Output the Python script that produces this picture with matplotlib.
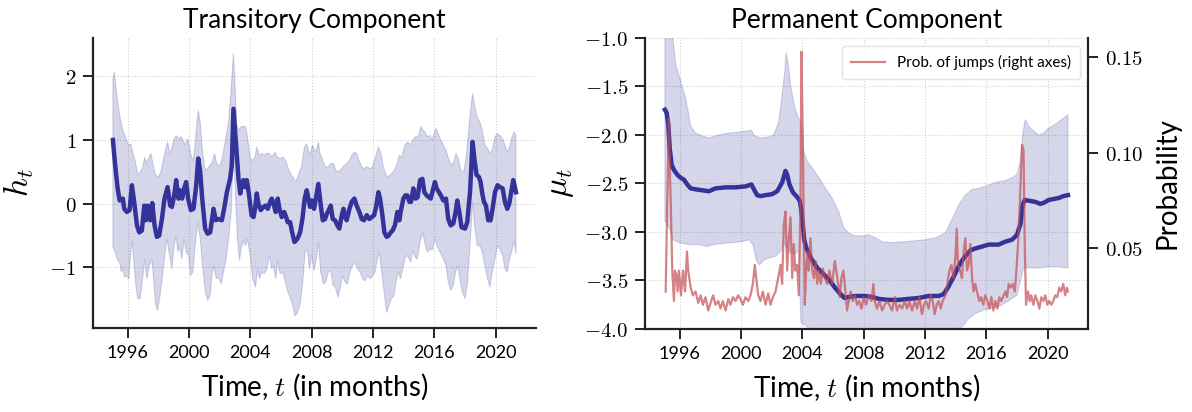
import numpy as np
import matplotlib
matplotlib.use("Agg")
import matplotlib.pyplot as plt
from matplotlib.ticker import FormatStrFormatter

plt.rcParams['font.family'] = ['Lato', 'DejaVu Sans']
plt.rcParams['mathtext.fontset'] = 'cm'

BASE_YEAR = 1995

# ---------------- Transitory component (left) ----------------
h_mean_t = [0.02,0.17,0.33,0.46,0.67,0.76,0.93,1.11,1.26,1.41,
            1.59,1.74,1.91,2.07,2.17,2.30,2.46,2.59,2.74,2.89,
            3.04,3.22,3.39,3.59,3.76,3.87,4.02,4.15,4.30,4.41,
            4.54,4.67,4.80,4.93,5.11,5.28,5.46,5.59,5.72,5.85,
            6.04,6.20,6.37,6.48,6.59,6.74,6.91,7.13,7.28,7.46,
            7.67,7.78,7.89,8.00,8.11,8.22,8.33,8.43,8.54,8.65,
            8.76,8.91,9.07,9.20,9.30,9.41,9.52,9.67,9.85,9.98,
            10.13,10.28,10.39,10.50,10.65,10.78,10.89,11.04,11.20,11.33,
            11.43,11.59,11.72,11.87,12.07,12.24,12.39,12.54,12.67,12.78,
            12.89,13.00,13.15,13.28,13.43,13.59,13.72,13.87,13.98,14.11,
            14.24,14.37,14.52,14.67,14.80,14.96,15.07,15.17,15.28,15.46,
            15.61,15.78,15.93,16.11,16.26,16.41,16.59,16.76,16.91,17.07,
            17.20,17.35,17.46,17.61,17.74,17.89,18.02,18.15,18.28,18.43,
            18.59,18.72,18.80,18.98,19.11,19.24,19.37,19.48,19.63,19.78,
            19.91,20.07,20.22,20.35,20.50,20.65,20.76,20.87,21.04,21.15,
            21.30,21.43,21.59,21.76,21.91,22.07,22.24,22.39,22.50,22.63,
            22.78,23.00,23.15,23.33,23.50,23.61,23.76,23.91,24.02,24.13,
            24.24,24.37,24.52,24.67,24.80,24.96,25.13,25.28,25.46,25.61,
            25.76,25.89,26.04,26.15,26.26,26.33]
h_mean = [1.00,0.60,0.24,0.05,0.08,-0.08,-0.13,-0.10,0.29,0.03,
          -0.34,-0.45,-0.42,-0.03,-0.26,-0.03,-0.26,0.01,-0.34,-0.52,
          -0.50,-0.24,0.08,0.26,-0.03,-0.05,0.13,0.37,0.08,0.21,
          0.08,0.24,0.34,0.08,-0.10,-0.08,0.29,0.71,0.50,0.08,
          -0.39,-0.47,-0.45,-0.26,-0.08,-0.26,-0.24,-0.26,-0.08,0.18,
          0.39,0.60,1.49,1.13,0.76,0.39,0.16,0.29,0.37,0.26,
          0.37,0.13,-0.18,-0.21,-0.08,0.16,0.00,-0.10,-0.05,-0.03,
          -0.08,0.03,0.08,0.00,-0.13,0.08,-0.08,-0.21,-0.13,-0.21,
          -0.29,-0.29,-0.45,-0.60,-0.55,-0.45,-0.24,0.08,0.21,0.08,
          -0.05,0.05,-0.08,0.10,0.31,-0.03,-0.26,-0.24,-0.16,-0.10,
          -0.03,-0.24,-0.26,-0.34,-0.39,-0.18,-0.08,-0.21,-0.26,-0.08,
          0.03,0.08,-0.03,-0.13,-0.24,-0.26,-0.18,-0.24,-0.21,-0.18,
          -0.05,0.18,0.08,-0.18,-0.45,-0.52,-0.50,-0.45,-0.42,-0.34,
          -0.13,-0.26,-0.13,0.08,0.13,0.13,0.03,0.03,0.24,0.08,
          0.10,0.37,0.39,0.18,0.13,0.10,0.08,0.18,0.34,0.24,
          0.18,0.13,0.05,0.08,-0.24,-0.34,-0.31,-0.13,0.05,-0.13,
          -0.37,-0.39,-0.29,0.18,0.97,0.71,0.45,0.42,0.34,0.16,
          0.03,-0.03,-0.26,-0.26,-0.08,0.18,0.29,0.26,0.24,0.03,
          -0.08,0.00,0.21,0.37,0.26,0.18]

h_upper_t = [0.02,0.11,0.28,0.46,0.67,0.87,1.04,1.20,1.33,1.48,
             1.65,1.80,1.98,2.09,2.20,2.35,2.50,2.63,2.80,3.00,
             3.15,3.33,3.48,3.59,3.72,3.87,4.02,4.15,4.30,4.46,
             4.59,4.74,4.89,5.00,5.13,5.28,5.41,5.59,5.72,5.85,
             6.00,6.15,6.33,6.48,6.65,6.80,6.98,7.15,7.35,7.57,
             7.74,7.89,8.00,8.11,8.24,8.39,8.54,8.67,8.80,8.98,
             9.15,9.30,9.41,9.57,9.74,9.89,10.07,10.24,10.39,10.61,
             10.76,10.93,11.15,11.33,11.54,11.76,11.96,12.13,12.35,12.52,
             12.67,12.89,13.04,13.28,13.43,13.54,13.72,13.87,14.09,14.24,
             14.41,14.59,14.74,14.96,15.11,15.28,15.46,15.61,15.78,15.93,
             16.09,16.26,16.41,16.59,16.80,16.98,17.13,17.35,17.50,17.67,
             17.89,18.11,18.33,18.54,18.72,18.87,19.09,19.26,19.46,19.59,
             19.76,19.96,20.11,20.28,20.39,20.54,20.72,20.85,20.98,21.11,
             21.26,21.41,21.59,21.76,21.96,22.13,22.28,22.41,22.57,22.74,
             22.93,23.11,23.33,23.50,23.65,23.80,23.98,24.13,24.30,24.48,
             24.63,24.78,24.96,25.11,25.28,25.46,25.61,25.76,25.89,26.04,
             26.20,26.33]
h_upper = [1.95,2.07,1.70,1.39,1.15,1.02,0.92,0.94,0.79,0.66,
           0.45,0.50,0.58,0.73,0.63,0.71,0.79,0.63,0.45,0.42,
           0.50,0.71,0.87,0.97,0.79,0.87,1.02,1.07,1.02,1.05,
           1.00,0.92,1.02,0.92,0.76,0.66,1.02,1.47,1.28,0.87,
           0.58,0.52,0.60,0.63,0.79,0.63,0.58,0.71,0.97,1.28,
           1.81,2.36,1.81,1.23,1.15,1.21,1.21,1.21,1.07,0.71,
           0.68,0.73,0.89,0.76,0.79,0.76,0.79,0.79,0.73,0.81,
           0.73,0.71,0.73,0.66,0.50,0.42,0.34,0.45,0.60,0.89,
           0.94,0.76,0.92,0.81,0.97,0.79,0.68,0.58,0.58,0.63,
           0.63,0.52,0.50,0.55,0.60,0.63,0.68,0.76,0.81,0.79,
           0.68,0.58,0.55,0.58,0.55,0.58,0.71,0.89,0.81,0.58,
           0.42,0.45,0.50,0.60,0.76,0.73,0.92,0.97,0.92,1.00,
           1.05,1.05,1.21,1.15,1.13,1.05,1.07,1.00,1.10,1.18,
           1.10,1.00,0.92,0.84,0.68,0.60,0.66,0.79,0.71,0.52,
           0.50,0.81,1.39,1.73,1.52,1.36,1.28,1.15,0.92,0.87,
           0.79,0.84,1.05,1.10,1.07,1.02,0.92,0.81,0.87,1.02,
           1.13,1.07]

h_lower_t = [0.02,0.17,0.33,0.46,0.57,0.67,0.78,0.93,1.07,1.15,
             1.28,1.41,1.54,1.65,1.80,1.96,2.09,2.24,2.39,2.57,
             2.67,2.80,2.93,3.07,3.22,3.39,3.54,3.72,3.87,4.02,
             4.15,4.26,4.37,4.52,4.67,4.80,4.96,5.09,5.24,5.41,
             5.57,5.72,5.87,6.04,6.20,6.37,6.48,6.63,6.76,6.91,
             7.09,7.24,7.41,7.59,7.74,7.89,8.02,8.15,8.28,8.39,
             8.54,8.67,8.80,8.98,9.15,9.33,9.46,9.59,9.74,9.89,
             10.07,10.24,10.37,10.50,10.65,10.78,10.93,11.11,11.26,11.41,
             11.59,11.76,11.89,12.07,12.24,12.41,12.57,12.70,12.85,13.00,
             13.15,13.30,13.43,13.59,13.76,13.91,14.09,14.24,14.39,14.54,
             14.72,14.89,15.02,15.17,15.33,15.50,15.67,15.83,15.98,16.15,
             16.33,16.48,16.65,16.80,16.98,17.13,17.28,17.41,17.57,17.72,
             17.89,18.04,18.20,18.37,18.50,18.65,18.80,18.98,19.15,19.30,
             19.46,19.59,19.74,19.89,20.07,20.24,20.39,20.54,20.72,20.87,
             21.04,21.20,21.37,21.54,21.76,21.91,22.09,22.24,22.39,22.52,
             22.67,22.83,23.00,23.15,23.33,23.50,23.65,23.80,23.98,24.13,
             24.30,24.48,24.63,24.78,24.96,25.11,25.28,25.46,25.61,25.76,
             25.89,26.04,26.20,26.33]
h_lower = [-0.68,-0.76,-0.89,-0.92,-1.07,-1.02,-1.15,-1.13,-1.18,-0.87,
           -0.58,-0.97,-1.34,-1.49,-1.49,-1.18,-0.87,-1.18,-0.97,-0.87,
           -1.18,-1.55,-1.68,-1.49,-1.21,-0.84,-0.55,-0.81,-1.02,-0.66,
           -0.50,-0.76,-0.66,-0.87,-0.55,-0.76,-0.81,-1.13,-1.07,-0.60,
           -0.29,-0.55,-0.97,-1.36,-1.52,-1.44,-1.13,-0.97,-1.18,-1.15,
           -1.26,-1.07,-0.87,-0.50,-0.13,0.87,0.13,-0.55,-0.89,-0.71,
           -0.58,-0.66,-0.55,-0.81,-1.18,-1.31,-1.02,-1.18,-1.07,-1.10,
           -1.02,-0.81,-1.02,-0.97,-1.18,-0.89,-1.10,-1.07,-1.21,-1.36,
           -1.47,-1.60,-1.76,-1.71,-1.58,-1.23,-0.76,-0.71,-1.02,-0.81,
           -1.05,-0.87,-0.60,-1.07,-1.26,-1.23,-1.07,-1.05,-1.28,-1.31,
           -1.47,-1.28,-1.13,-1.23,-1.26,-1.07,-0.97,-0.92,-1.02,-1.07,
           -1.18,-1.21,-1.13,-1.18,-1.13,-1.07,-0.87,-0.76,-1.07,-1.39,
           -1.71,-1.60,-1.49,-1.44,-1.23,-1.07,-1.18,-0.97,-0.81,-0.84,
           -0.92,-0.73,-0.84,-0.87,-0.60,-0.45,-0.63,-0.76,-0.71,-0.73,
           -0.55,-0.68,-0.76,-0.84,-0.97,-1.23,-1.36,-1.28,-1.07,-0.97,
           -1.18,-1.39,-1.49,-1.28,-0.66,0.03,-0.39,-0.66,-0.66,-0.76,
           -0.97,-1.18,-1.31,-1.07,-0.87,-0.66,-0.71,-0.81,-1.02,-1.07,
           -0.89,-0.76,-0.58,-0.79]

# ---------------- Permanent component (right) ----------------
mu_mean_t = [0.02,0.13,0.24,0.33,0.46,0.61,0.83,1.04,1.26,1.48,
             1.70,2.02,2.46,2.89,3.33,3.98,4.63,5.28,5.67,5.83,
             6.04,6.26,6.59,7.02,7.35,7.67,7.89,8.00,8.15,8.37,
             8.65,8.83,8.93,9.02,9.11,9.24,9.41,9.63,9.96,10.28,
             10.72,11.15,11.48,11.74,12.02,12.46,13.11,13.54,13.98,14.63,
             15.28,15.93,16.59,17.24,17.89,18.22,18.54,18.87,19.20,19.52,
             19.96,20.28,20.72,21.15,21.80,22.24,22.67,23.00,23.22,23.37,
             23.50,23.87,24.20,24.52,24.74,25.07,25.39,25.72,26.04,26.33]
mu_mean = [-1.74,-1.77,-1.89,-2.13,-2.31,-2.36,-2.41,-2.44,-2.46,-2.51,
           -2.55,-2.56,-2.57,-2.58,-2.55,-2.54,-2.54,-2.53,-2.51,-2.56,
           -2.62,-2.63,-2.62,-2.61,-2.58,-2.49,-2.37,-2.41,-2.51,-2.59,
           -2.64,-2.68,-2.79,-2.92,-3.08,-3.16,-3.22,-3.29,-3.37,-3.42,
           -3.49,-3.58,-3.64,-3.68,-3.67,-3.66,-3.66,-3.67,-3.69,-3.70,
           -3.70,-3.69,-3.68,-3.66,-3.66,-3.64,-3.56,-3.46,-3.35,-3.27,
           -3.19,-3.17,-3.15,-3.13,-3.13,-3.10,-3.08,-3.03,-2.92,-2.72,
           -2.67,-2.68,-2.69,-2.71,-2.70,-2.67,-2.66,-2.65,-2.63,-2.62]

mu_upper_t = [0.02,0.39,0.54,0.72,0.93,1.15,1.37,1.54,1.70,2.02,
              2.46,2.89,3.11,3.54,4.20,4.85,5.28,5.67,5.83,6.04,
              6.37,6.80,7.13,7.46,7.67,7.85,7.93,8.07,8.22,8.50,
              8.72,8.87,9.09,9.30,9.63,10.07,10.50,10.93,11.37,11.70,
              12.02,12.46,12.89,13.33,13.76,14.20,14.85,15.72,16.37,17.02,
              17.67,18.33,18.76,19.20,19.63,20.07,20.50,20.93,21.59,22.24,
              22.67,23.00,23.22,23.37,23.54,23.76,24.09,24.41,24.74,25.07,
              25.50,25.93,26.33]
mu_upper = [-0.60,-0.85,-1.00,-1.27,-1.38,-1.50,-1.62,-1.76,-1.91,-1.98,
            -2.01,-2.03,-2.02,-2.00,-1.98,-1.97,-1.96,-1.95,-2.00,-2.02,
            -2.03,-2.02,-2.00,-1.86,-1.58,-1.34,-1.15,-1.27,-1.48,-1.72,
            -1.82,-1.86,-2.17,-2.27,-2.34,-2.44,-2.55,-2.65,-2.79,-2.96,
            -3.01,-3.04,-3.04,-3.03,-3.06,-3.10,-3.11,-3.10,-3.09,-3.08,
            -3.06,-3.01,-2.87,-2.72,-2.62,-2.56,-2.55,-2.53,-2.49,-2.47,
            -2.44,-2.41,-2.27,-2.00,-1.84,-1.91,-1.96,-2.00,-1.98,-1.93,
            -1.89,-1.84,-1.79]

mu_lower_t = [0.02,0.17,0.39,0.54,0.93,1.59,2.24,2.78,3.11,3.76,
              4.41,5.07,5.50,5.76,6.00,6.20,6.48,6.80,7.24,7.57,
              7.78,7.93,8.11,8.43,8.76,8.89,8.98,9.20,9.63,10.07,
              11.80,13.98,16.15,18.33,19.20,19.52,19.85,20.28,20.93,21.80,
              22.46,23.00,23.22,23.43,23.76,24.41,25.07,25.72,26.33]
mu_lower = [-2.89,-2.91,-2.99,-3.08,-3.11,-3.13,-3.13,-3.15,-3.13,-3.12,
            -3.11,-3.10,-3.08,-3.13,-3.30,-3.34,-3.29,-3.27,-3.25,-3.20,
            -3.11,-3.15,-3.20,-3.23,-3.20,-3.92,-3.95,-3.96,-4.03,-4.10,
            -4.20,-4.25,-4.25,-4.15,-4.00,-3.96,-3.89,-3.84,-3.80,-3.77,
            -3.71,-3.65,-3.51,-3.37,-3.37,-3.37,-3.36,-3.36,-3.37]

prob_t = [0.07,0.17,0.28,0.35,0.41,0.50,0.61,0.67,0.76,0.85,
          0.93,1.07,1.20,1.33,1.46,1.54,1.70,1.85,2.02,2.20,
          2.35,2.50,2.67,2.85,3.00,3.17,3.33,3.50,3.65,3.80,
          3.98,4.15,4.30,4.46,4.63,4.80,4.96,5.11,5.28,5.46,
          5.61,5.76,5.89,5.98,6.11,6.26,6.41,6.59,6.76,6.91,
          7.07,7.24,7.41,7.57,7.67,7.78,7.89,8.00,8.11,8.22,
          8.33,8.43,8.54,8.65,8.76,8.87,8.93,9.02,9.09,9.15,
          9.24,9.33,9.41,9.52,9.63,9.74,9.85,9.96,10.07,10.20,
          10.33,10.46,10.61,10.76,10.93,11.11,11.20,11.33,11.43,11.54,
          11.67,11.80,11.91,12.02,12.15,12.28,12.41,12.57,12.70,12.85,
          13.00,13.15,13.33,13.50,13.63,13.72,13.87,14.02,14.20,14.37,
          14.52,14.67,14.85,15.02,15.17,15.33,15.50,15.67,15.83,15.98,
          16.15,16.33,16.48,16.63,16.80,16.93,17.07,17.24,17.37,17.50,
          17.63,17.76,17.89,18.02,18.15,18.33,18.46,18.59,18.72,18.85,
          18.98,19.07,19.15,19.28,19.41,19.52,19.63,19.74,19.85,19.96,
          20.07,20.17,20.28,20.39,20.54,20.67,20.80,20.93,21.07,21.20,
          21.33,21.46,21.59,21.72,21.85,21.98,22.13,22.24,22.35,22.46,
          22.59,22.72,22.85,22.93,23.07,23.20,23.33,23.43,23.50,23.59,
          23.72,23.83,23.93,24.07,24.20,24.33,24.46,24.59,24.72,24.85,
          24.98,25.11,25.24,25.37,25.50,25.63,25.76,25.89,26.02,26.15,
          26.26,26.33]
prob = [0.027,0.073,0.118,0.090,0.071,0.038,0.022,0.038,0.036,0.027,
        0.038,0.025,0.038,0.027,0.048,0.038,0.029,0.025,0.027,0.021,
        0.025,0.020,0.024,0.017,0.021,0.025,0.020,0.022,0.018,0.022,
        0.017,0.023,0.020,0.024,0.022,0.025,0.023,0.020,0.024,0.022,
        0.025,0.031,0.041,0.034,0.025,0.022,0.027,0.020,0.026,0.020,
        0.024,0.027,0.034,0.041,0.031,0.062,0.069,0.038,0.055,0.066,
        0.034,0.052,0.038,0.041,0.025,0.073,0.153,0.108,0.062,0.020,
        0.038,0.048,0.038,0.055,0.039,0.034,0.043,0.031,0.038,0.031,
        0.039,0.034,0.031,0.038,0.031,0.043,0.038,0.031,0.024,0.034,
        0.038,0.027,0.017,0.022,0.027,0.022,0.025,0.020,0.022,0.018,
        0.024,0.020,0.025,0.022,0.031,0.022,0.018,0.022,0.017,0.020,
        0.022,0.020,0.017,0.024,0.017,0.020,0.018,0.022,0.018,0.022,
        0.017,0.022,0.018,0.024,0.015,0.020,0.022,0.018,0.025,0.022,
        0.015,0.020,0.022,0.018,0.022,0.025,0.031,0.038,0.041,0.034,
        0.045,0.060,0.041,0.038,0.034,0.048,0.055,0.038,0.041,0.052,
        0.034,0.027,0.031,0.027,0.022,0.024,0.020,0.025,0.022,0.018,
        0.024,0.017,0.022,0.018,0.024,0.022,0.025,0.027,0.024,0.031,
        0.029,0.031,0.027,0.034,0.052,0.076,0.104,0.101,0.055,0.020,
        0.027,0.022,0.025,0.020,0.025,0.022,0.018,0.024,0.022,0.025,
        0.020,0.022,0.020,0.022,0.025,0.024,0.029,0.027,0.031,0.025,
        0.029,0.027]

year_ticks = [1996, 2000, 2004, 2008, 2012, 2016, 2020]
year_labels = ['1996', '2000', '2004', '2008', '2012', '2016', '2020']

BLUE = '#333399'
RED = '#c44e52'


def yrs(t):
    return BASE_YEAR + np.asarray(t)


def band(ax, tu, u, tl, l):
    xs = np.concatenate([yrs(tu), yrs(tl)[::-1]])
    ys = np.concatenate([np.asarray(u), np.asarray(l)[::-1]])
    ax.fill(xs, ys, facecolor=BLUE, alpha=0.2, edgecolor=BLUE, lw=0.8, zorder=2)


def style(ax):
    ax.set_xlim(1993.72, 2022.64)
    ax.set_xticks(year_ticks)
    ax.set_xticklabels(year_labels, fontsize=13)
    ax.grid(True, ls=':', color='#d0d0d0', lw=0.8, zorder=0)
    ax.set_axisbelow(True)
    ax.spines['top'].set_visible(False)
    ax.spines['right'].set_visible(False)
    for s in ['left', 'bottom']:
        ax.spines[s].set_linewidth(1.6)
        ax.spines[s].set_color('#222222')
    ax.tick_params(axis='both', direction='out', length=7, width=1.4,
                   color='#222222', pad=5)
    ax.tick_params(axis='y', labelsize=15)
    ax.set_xlabel('Time, $t$ (in months)', fontsize=20, labelpad=8)


fig = plt.figure(figsize=(11.92, 4.12), dpi=100)
ax1 = fig.add_axes([0.0780, 0.2039, 0.3717, 0.7039])
ax2 = fig.add_axes([0.5411, 0.2015, 0.3717, 0.7063])

# Left
band(ax1, h_upper_t, h_upper, h_lower_t, h_lower)
ax1.plot(yrs(h_mean_t), h_mean, color=BLUE, lw=3.2, zorder=3)
style(ax1)
ax1.set_ylim(-1.95, 2.6)
ax1.set_yticks([-1, 0, 1, 2])
ax1.yaxis.set_major_formatter(FormatStrFormatter('$%d$'))
ax1.set_ylabel('$h_t$', fontsize=24, labelpad=10)
ax1.set_title('Transitory Component', fontsize=19, pad=7)

# Right
band(ax2, mu_upper_t, mu_upper, mu_lower_t, mu_lower)
ax2.plot(yrs(mu_mean_t), mu_mean, color=BLUE, lw=3.2, zorder=3)
style(ax2)
ax2.set_ylim(-4.0, -1.0)
ax2.set_yticks([-4.0, -3.5, -3.0, -2.5, -2.0, -1.5, -1.0])
ax2.yaxis.set_major_formatter(FormatStrFormatter('$%.1f$'))
ax2.set_ylabel(r'$\mu_t$', fontsize=24, labelpad=6)
ax2.set_title('Permanent Component', fontsize=19, pad=7)

ax3 = ax2.twinx()
ax3.plot(yrs(prob_t), prob, color=RED, alpha=0.7, lw=1.6,
         label='Prob. of jumps (right axes)')
ax3.set_ylim(0.0073, 0.1602)
ax3.set_yticks([0.05, 0.10, 0.15])
ax3.yaxis.set_major_formatter(FormatStrFormatter('$%.2f$'))
for s in ['top', 'left', 'bottom']:
    ax3.spines[s].set_visible(False)
ax3.spines['right'].set_linewidth(1.6)
ax3.spines['right'].set_color('#222222')
ax3.tick_params(axis='y', direction='out', length=7, width=1.4,
                color='#222222', pad=5, labelsize=15)
ax3.set_ylabel('Probability', fontsize=20, labelpad=8)
leg = ax3.legend(loc='upper right', fontsize=11, frameon=True,
                 handlelength=2.2, borderpad=0.6)
leg.get_frame().set_edgecolor('#dddddd')

fig.savefig('out.png', dpi=100)
